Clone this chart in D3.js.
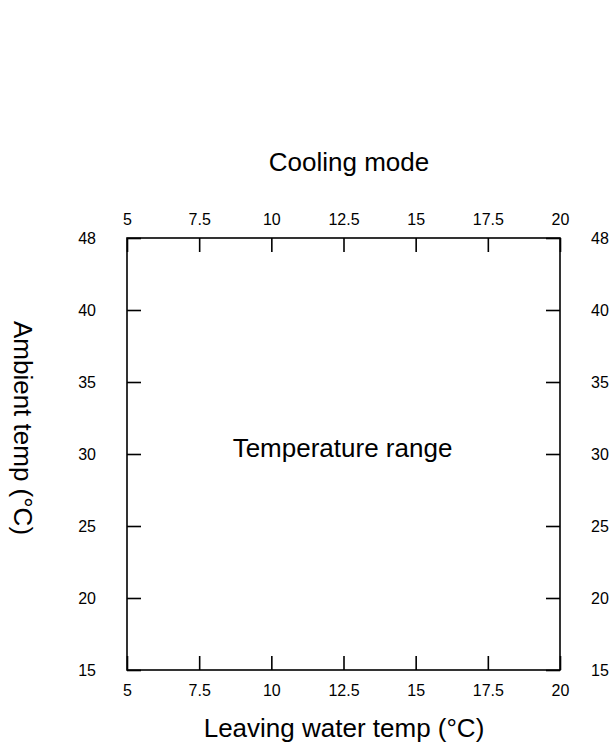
<!DOCTYPE html>
<html>
<head>
<meta charset="utf-8">
<script src="https://cdn.jsdelivr.net/npm/d3@7"></script>
<style>
  body { margin: 0; background: #fff; }
  svg { display: block; }
</style>
</head>
<body>
<svg id="chart" width="616" height="751"></svg>
<script>
// ---- data ----
const xTicks = [5, 7.5, 10, 12.5, 15, 17.5, 20];
const xTickLabels = ["5", "7.5", "10", "12.5", "15", "17.5", "20"];
const yTicks = [15, 20, 25, 30, 35, 40, 48];
const yTickLabels = ["15", "20", "25", "30", "35", "40", "48"];
const xDomain = [5, 20];
const yDomain = [15, 40, 48];
const title = "Cooling mode";
const centerLabel = "Temperature range";
const xTitle = "Leaving water temp (°C)";
const yTitle = "Ambient temp (°C)";

// ---- layout ----
const plotL = 127, plotR = 560, plotT = 238, plotB = 670;
const svg = d3.select("#chart");
const x = d3.scaleLinear().domain(xDomain).range([plotL, plotR]);
const y = d3.scaleLinear().domain(yDomain).range([plotB, 310, plotT]);

const tickFont = "'Liberation Sans', Arial, sans-serif";
const sw = 1.6;

function styleAxis(g) {
  g.select(".domain").remove();
  g.selectAll("line").attr("stroke", "#000").attr("stroke-width", sw);
  g.selectAll("text").attr("font-family", tickFont).attr("font-size", 16).attr("fill", "#000");
}

// frame
svg.append("rect")
  .attr("x", plotL).attr("y", plotT)
  .attr("width", plotR - plotL).attr("height", plotB - plotT)
  .attr("fill", "none").attr("stroke", "#000").attr("stroke-width", sw);

const fmtX = d => xTickLabels[xTicks.indexOf(d)];
const fmtY = d => yTickLabels[yTicks.indexOf(d)];

svg.append("g").attr("transform", `translate(0,${plotB})`)
  .call(d3.axisBottom(x).tickValues(xTicks).tickFormat(fmtX).tickSizeInner(-14).tickSizeOuter(0).tickPadding(15))
  .call(styleAxis);
svg.append("g").attr("transform", `translate(0,${plotT})`)
  .call(d3.axisTop(x).tickValues(xTicks).tickFormat(fmtX).tickSizeInner(-14).tickSizeOuter(0).tickPadding(13))
  .call(styleAxis);
svg.append("g").attr("transform", `translate(${plotL},0)`)
  .call(d3.axisLeft(y).tickValues(yTicks).tickFormat(fmtY).tickSizeInner(-14).tickSizeOuter(0).tickPadding(31))
  .call(styleAxis);
svg.append("g").attr("transform", `translate(${plotR},0)`)
  .call(d3.axisRight(y).tickValues(yTicks).tickFormat(fmtY).tickSizeInner(-14).tickSizeOuter(0).tickPadding(31))
  .call(styleAxis);

const titleFont = "'Liberation Sans', Arial, sans-serif";
svg.append("text").attr("x", 349).attr("y", 171)
  .attr("text-anchor", "middle").attr("font-family", titleFont).attr("font-size", 26)
  .text(title);
svg.append("text").attr("x", 342.5).attr("y", 457)
  .attr("text-anchor", "middle").attr("font-family", titleFont).attr("font-size", 26)
  .text(centerLabel);
svg.append("text").attr("x", 344).attr("y", 737)
  .attr("text-anchor", "middle").attr("font-family", titleFont).attr("font-size", 26)
  .text(xTitle);
svg.append("text").attr("transform", "translate(14,428) rotate(90)")
  .attr("text-anchor", "middle").attr("font-family", titleFont).attr("font-size", 26)
  .text(yTitle);
</script>
</body>
</html>
